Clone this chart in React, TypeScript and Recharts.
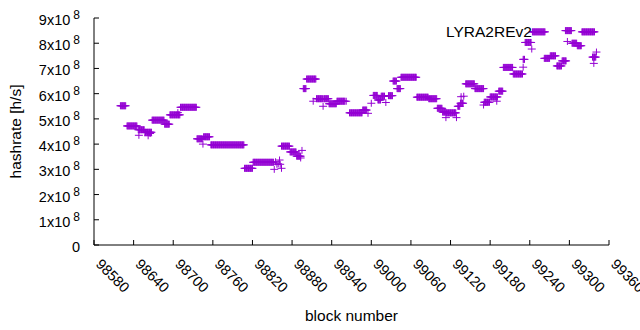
import { ScatterChart, Scatter, XAxis, YAxis, Legend } from "recharts";

// hashrate in units of 1e8 h/s, as [first block, last block, value] runs
const runs: [number, number, number][] = [
  [98620, 98628, 5.52],
  [98630, 98645, 4.72],
  [98647, 98656, 4.57],
  [98657, 98667, 4.47],
  [98668, 98686, 4.95],
  [98687, 98694, 4.79],
  [98695, 98710, 5.16],
  [98711, 98735, 5.46],
  [98736, 98744, 4.21],
  [98746, 98755, 4.29],
  [98757, 98807, 3.97],
  [98808, 98820, 3.04],
  [98821, 98852, 3.28],
  [98864, 98876, 3.92],
  [98877, 98886, 3.69],
  [98887, 98893, 3.52],
  [98897, 98901, 6.2],
  [98902, 98916, 6.58],
  [98917, 98926, 5.8],
  [98928, 98935, 5.8],
  [98936, 98947, 5.6],
  [98948, 98960, 5.7],
  [98967, 98986, 5.24],
  [98987, 98993, 5.35],
  [99003, 99009, 5.93],
  [99010, 99014, 5.75],
  [99015, 99020, 5.9],
  [99026, 99032, 5.92],
  [99033, 99038, 6.5],
  [99039, 99044, 6.2],
  [99045, 99068, 6.65],
  [99069, 99086, 5.86],
  [99087, 99099, 5.8],
  [99100, 99107, 5.42],
  [99108, 99113, 5.27],
  [99114, 99128, 5.24],
  [99131, 99134, 5.5],
  [99135, 99139, 5.62],
  [99143, 99156, 6.39],
  [99157, 99170, 6.2],
  [99171, 99179, 5.66],
  [99180, 99191, 5.87],
  [99193, 99199, 6.1],
  [99200, 99214, 7.04],
  [99215, 99229, 6.78],
  [99230, 99232, 7.36],
  [99233, 99242, 8.03],
  [99244, 99263, 8.45],
  [99262, 99270, 7.4],
  [99271, 99279, 7.5],
  [99281, 99288, 7.1],
  [99289, 99295, 7.3],
  [99294, 99303, 8.5],
  [99304, 99311, 8.0],
  [99312, 99318, 7.9],
  [99319, 99338, 8.45],
  [99335, 99340, 7.45],
];

// single blocks off the runs: [block, value]
const outliers: [number, number][] = [
  [98648, 4.35], [98662, 4.33], [98665, 4.42], [98707, 5.25], [98745, 4.0],
  [98853, 3.0], [98855, 3.3], [98857, 3.2], [98859, 3.22], [98861, 3.37],
  [98862, 3.2], [98864, 3.04], [98893, 3.45], [98895, 3.75], [98912, 5.7],
  [98927, 5.5], [98962, 5.7], [98995, 5.22], [99000, 5.62], [99022, 5.65],
  [99113, 5.05], [99129, 5.05], [99136, 5.88], [99140, 5.9], [99170, 5.55],
  [99190, 5.7], [99230, 7.05], [99243, 7.77], [99297, 8.07], [99337, 7.2],
  [99341, 7.65],
];

const xTicks = [98580, 98640, 98700, 98760, 98820, 98880, 98940, 99000, 99060, 99120, 99180, 99240, 99300, 99360];
const yTicks = [0, 1, 2, 3, 4, 5, 6, 7, 8, 9];

const points = [
  ...runs.flatMap(([from, to, rate]) =>
    Array.from({ length: to - from + 1 }, (_, i) => ({ block: from + i, rate }))
  ),
  ...outliers.map(([block, rate]) => ({ block, rate })),
];

const FONT = "'Liberation Sans', Arial, sans-serif";
const PURPLE = "#9400d3";

function Plus({ cx, cy }: any) {
  return (
    <g stroke={PURPLE} strokeWidth={1}>
      <line x1={cx - 4} x2={cx + 4} y1={cy} y2={cy} />
      <line x1={cx} x2={cx} y1={cy - 3.5} y2={cy + 3.5} />
    </g>
  );
}

function BottomTick({ x, y, payload }: any) {
  const tx = x + 1;
  const ty = y + 20;
  return (
    <g>
      <line x1={x} x2={x} y1={y} y2={y - 5} stroke="#000" />
      <text x={tx} y={ty} transform={`rotate(45 ${tx} ${ty})`} fontSize={14.5} fontFamily={FONT} fill="#000">
        {payload.value}
      </text>
    </g>
  );
}

function TopTick({ x, y }: any) {
  return <line x1={x} x2={x} y1={y} y2={y + 5} stroke="#000" />;
}

function LeftTick({ x, y, payload }: any) {
  const v = payload.value;
  return (
    <g>
      <line x1={x} x2={x + 5} y1={y} y2={y} stroke="#000" />
      <text x={x - 14} y={y + 7} textAnchor="end" fontSize={14.5} fontFamily={FONT} fill="#000">
        {v === 0 ? "0" : `${v}x10`}
        {v !== 0 && (
          <tspan dx={3} dy={-6} fontSize={12}>
            8
          </tspan>
        )}
      </text>
    </g>
  );
}

function RightTick({ x, y }: any) {
  return <line x1={x} x2={x - 5} y1={y} y2={y} stroke="#000" />;
}

function KeyText() {
  return (
    <div style={{ fontFamily: FONT, fontSize: 15.5, color: "#000", lineHeight: "18px" }}>LYRA2REv2</div>
  );
}

export default function App() {
  return (
    <div style={{ position: "absolute", left: 0, top: 0, width: 640, height: 330, background: "#fff" }}>
      <ScatterChart width={640} height={330} margin={{ top: 18, right: 31, bottom: 0, left: 0 }}>
        <XAxis
          type="number"
          dataKey="block"
          domain={[98580, 99360]}
          ticks={xTicks}
          interval={0}
          height={85}
          tickSize={0}
          tickMargin={0}
          tick={<BottomTick />}
          axisLine={{ stroke: "#000" }}
          label={{ value: "block number", position: "insideBottom", offset: 9, fontSize: 15.5, fontFamily: FONT, fill: "#000" }}
        />
        <XAxis
          xAxisId="top"
          orientation="top"
          type="number"
          domain={[98580, 99360]}
          ticks={xTicks}
          interval={0}
          height={0}
          tickSize={0}
          tickMargin={0}
          tick={<TopTick />}
          axisLine={{ stroke: "#000" }}
        />
        <YAxis
          type="number"
          dataKey="rate"
          domain={[0, 9]}
          ticks={yTicks}
          interval={0}
          width={94}
          tickSize={0}
          tickMargin={0}
          tick={<LeftTick />}
          axisLine={{ stroke: "#000" }}
          label={{ value: "hashrate [h/s]", angle: -90, position: "insideLeft", offset: 15, fontSize: 15.5, fontFamily: FONT, fill: "#000", style: { textAnchor: "middle" } }}
        />
        <YAxis
          yAxisId="right"
          orientation="right"
          type="number"
          domain={[0, 9]}
          ticks={yTicks}
          interval={0}
          width={0}
          tickSize={0}
          tickMargin={0}
          tick={<RightTick />}
          axisLine={{ stroke: "#000" }}
        />
        <Legend
          layout="vertical"
          align="center"
          verticalAlign="middle"
          content={<KeyText />}
          wrapperStyle={{ top: 23, left: 446, width: 100, height: 18 }}
        />
        <Scatter data={points} shape={<Plus />} isAnimationActive={false} />
      </ScatterChart>
    </div>
  );
}
